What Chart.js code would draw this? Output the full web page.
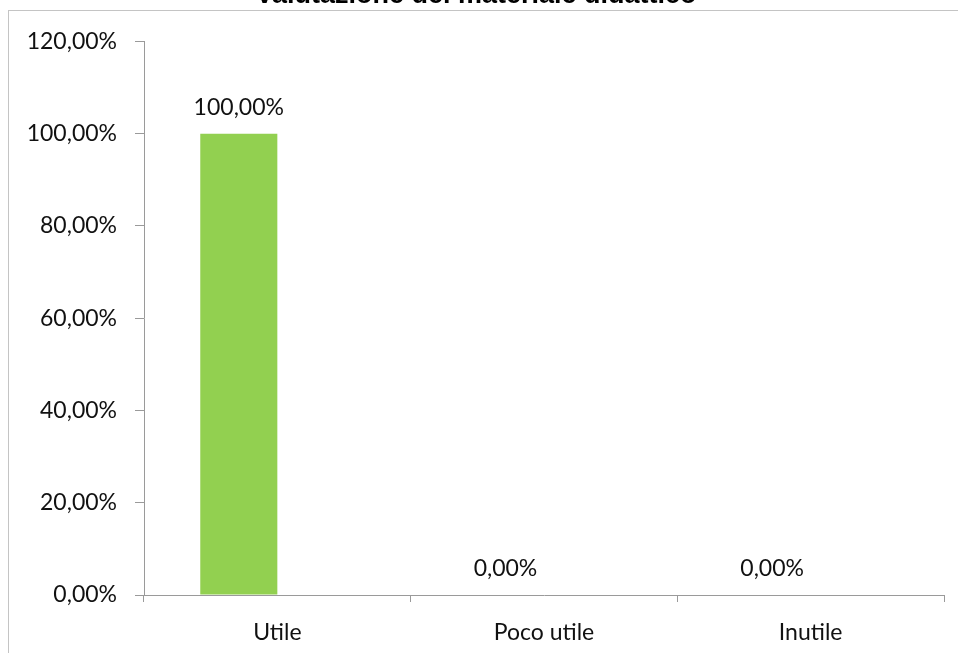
<!DOCTYPE html>
<html>
<head>
<meta charset="utf-8">
<script src="https://cdn.jsdelivr.net/npm/chart.js@4.4.0/dist/chart.umd.min.js"></script>
<style>
  html, body { margin: 0; padding: 0; background: #fff; overflow: hidden; }
  #wrap { position: relative; width: 958px; height: 653px; overflow: hidden; }
  #myChart { position: absolute; left: 8px; top: -30px; }
</style>
</head>
<body>
<div id="wrap">
  <canvas id="myChart" width="970" height="720"></canvas>
</div>
<script>
var titolo = 'Valutazione del materiale didattico';
var categorie = ['Utile', 'Poco utile', 'Inutile'];
var valori = [1, 0, 0];
var vuota = [null, null, null];
var tickY = [0, 0.2, 0.4, 0.6, 0.8, 1.0, 1.2];

function perc(v) {
    return (v * 100).toFixed(2).replace('.', ',') + '%';
}

var bordo = {
    id: 'bordo',
    beforeDraw: function(chart) {
        var c = chart.ctx;
        c.save();
        c.strokeStyle = '#c4c4c4';
        c.lineWidth = 1;
        c.strokeRect(0.5, 40.5, chart.width + 20, chart.height);
        c.restore();
    }
};

var etichette = {
    id: 'etichette',
    afterDatasetsDraw: function(chart) {
        var c = chart.ctx;
        var meta = chart.getDatasetMeta(0);
        c.save();
        c.font = '23px Lato';
        c.fillStyle = '#111';
        c.textAlign = 'center';
        c.textBaseline = 'alphabetic';
        meta.data.forEach(function(bar, i) {
            c.fillText(perc(valori[i]), bar.x, bar.y - 19);
        });
        c.restore();
    }
};

var ctx = document.getElementById('myChart');
var myChart = new Chart(ctx, {
    type: 'bar',
    data: {
        labels: categorie,
        datasets: [{
            label: 'Serie1',
            data: valori,
            backgroundColor: '#92d050',
            borderWidth: 0
        }, {
            label: 'Serie2',
            data: vuota,
            backgroundColor: '#4f81bd',
            borderWidth: 0
        }]
    },
    options: {
        responsive: false,
        animation: false,
        datasets: {
            bar: {
                barPercentage: 1,
                categoryPercentage: 0.578
            }
        },
        layout: {
            padding: { left: 0, right: 34, top: 0, bottom: 0 }
        },
        plugins: {
            legend: { display: false },
            tooltip: { enabled: false },
            title: {
                display: true,
                text: titolo,
                color: '#000',
                font: { family: 'Liberation Sans', size: 27, weight: 'bold' },
                padding: { top: 9, bottom: 30 }
            }
        },
        scales: {
            x: {
                grid: {
                    drawOnChartArea: false,
                    drawTicks: true,
                    tickLength: 7,
                    color: '#9a9a9a'
                },
                border: { color: '#9a9a9a', width: 1 },
                ticks: {
                    color: '#111',
                    font: { family: 'Lato', size: 23 },
                    padding: 17,
                    maxRotation: 0
                },
                afterFit: function(s) { s.height = 95; }
            },
            y: {
                min: 0,
                max: 1.2,
                afterBuildTicks: function(s) {
                    s.ticks = tickY.map(function(v) { return { value: v }; });
                },
                grid: {
                    drawOnChartArea: false,
                    drawTicks: true,
                    tickLength: 9,
                    color: '#9a9a9a'
                },
                border: { color: '#9a9a9a', width: 1 },
                ticks: {
                    color: '#111',
                    font: { family: 'Lato', size: 23 },
                    padding: 18,
                    callback: function(v) { return perc(v); }
                },
                afterFit: function(s) { s.width = 136; }
            }
        }
    },
    plugins: [bordo, etichette]
});
</script>
</body>
</html>
